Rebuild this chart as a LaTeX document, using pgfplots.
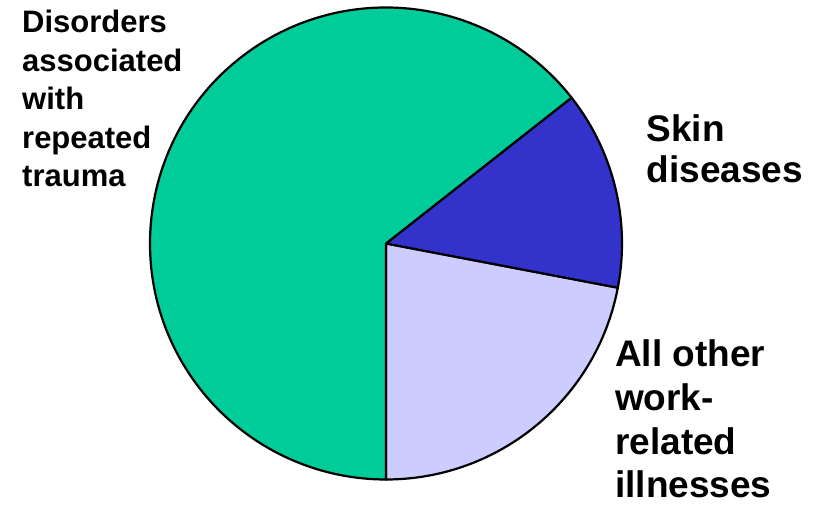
\documentclass[border=0pt]{standalone}
\usepackage{pgfplots}
\pgfplotsset{compat=1.18}
\usepackage{pgfplotstable}
\usepackage{fontspec}
\setmainfont{Liberation Sans}

\definecolor{trauma}{RGB}{0,204,153}
\definecolor{skin}{RGB}{51,51,204}
\definecolor{other}{RGB}{204,204,255}

% Shares of work-related illnesses (percent), counter-clockwise from the bottom
\pgfplotstableread{
value name
22.0  other
13.6  skin
64.4  trauma
}\slices

\pgfplotstablegetelem{0}{value}\of\slices \let\vA\pgfplotsretval
\pgfplotstablegetelem{1}{value}\of\slices \let\vB\pgfplotsretval
\pgfplotstablegetelem{2}{value}\of\slices \let\vC\pgfplotsretval
\pgfmathsetmacro\aO{-90}
\pgfmathsetmacro\aA{\aO+3.6*\vA}
\pgfmathsetmacro\aB{\aA+3.6*\vB}
\pgfmathsetmacro\aC{\aB+3.6*\vC}

\def\cx{386}
\def\cy{262.5}
\def\R{236}

\begin{document}
\begin{tikzpicture}[
  lab/.style={anchor=base west, inner sep=0pt, font=\bfseries\fontsize{31bp}{38bp}\selectfont},
  labr/.style={anchor=base west, inner sep=0pt, font=\bfseries\fontsize{37bp}{44bp}\selectfont},
  slice/.style={draw=black, line width=2.2bp, line join=round},
]
\begin{axis}[
  x=1bp, y=1bp,
  xmin=0, xmax=822, ymin=0, ymax=506,
  hide axis, clip=false,
]
\filldraw[slice, fill=other]
  (axis cs:\cx,\cy) -- ++(\aO:\R bp) arc[start angle=\aO, end angle=\aA, radius=\R bp] -- cycle;
\filldraw[slice, fill=skin]
  (axis cs:\cx,\cy) -- ++(\aA:\R bp) arc[start angle=\aA, end angle=\aB, radius=\R bp] -- cycle;
\filldraw[slice, fill=trauma]
  (axis cs:\cx,\cy) -- ++(\aB:\R bp) arc[start angle=\aB, end angle=\aC, radius=\R bp] -- cycle;

% Labels, one line per node on its baseline
\node[lab] at (axis cs:22,473) {Disorders};
\node[lab] at (axis cs:22,434.5) {associated};
\node[lab] at (axis cs:22,396) {with};
\node[lab] at (axis cs:22,357.5) {repeated};
\node[lab] at (axis cs:22,319) {trauma};

\node[labr] at (axis cs:646.5,364.5) {Skin};
\node[labr] at (axis cs:646.5,323) {diseases};
\node[labr] at (axis cs:615,139) {All other};
\node[labr] at (axis cs:615,95.3) {work-};
\node[labr] at (axis cs:615,51.7) {related};
\node[labr] at (axis cs:615,8) {illnesses};
\end{axis}
\pgfresetboundingbox
\path (current axis.south west) rectangle (current axis.north east);
\end{tikzpicture}
\end{document}
